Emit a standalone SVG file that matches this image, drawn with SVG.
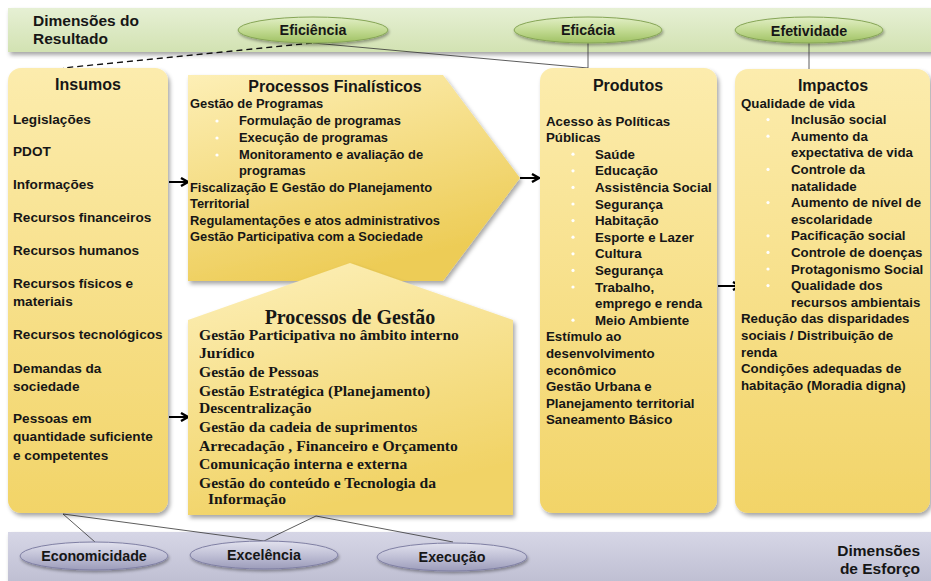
<svg xmlns="http://www.w3.org/2000/svg" width="931" height="581" viewBox="0 0 931 581">
<defs>
<linearGradient id="gBand" x1="0" y1="0" x2="0" y2="1"><stop offset="0" stop-color="#e6f0d4"/><stop offset="1" stop-color="#d2e2b2"/></linearGradient>
<linearGradient id="gBandB" x1="0" y1="0" x2="0" y2="1"><stop offset="0" stop-color="#d6d6e6"/><stop offset="1" stop-color="#bcbcd0"/></linearGradient>
<linearGradient id="gEllG" x1="0" y1="0" x2="0" y2="1"><stop offset="0" stop-color="#e2efc6"/><stop offset="0.5" stop-color="#c3db94"/><stop offset="1" stop-color="#9fc162"/></linearGradient>
<linearGradient id="gEllB" x1="0" y1="0" x2="0" y2="1"><stop offset="0" stop-color="#e2e2ee"/><stop offset="0.5" stop-color="#c0c0d6"/><stop offset="1" stop-color="#9c9cba"/></linearGradient>
<linearGradient id="gBox" x1="0" y1="0" x2="0" y2="1"><stop offset="0" stop-color="#fcecad"/><stop offset="1" stop-color="#f2d468"/></linearGradient>
<linearGradient id="gPF" x1="0" y1="0" x2="0.4" y2="1"><stop offset="0" stop-color="#fdefb6"/><stop offset="1" stop-color="#edcc56"/></linearGradient>
<linearGradient id="gPG" x1="0" y1="0" x2="0.3" y2="1"><stop offset="0" stop-color="#fdf0ba"/><stop offset="1" stop-color="#f1d366"/></linearGradient>
<filter id="sh" x="-10%" y="-10%" width="125%" height="125%"><feDropShadow dx="2" dy="3" stdDeviation="2" flood-color="#000" flood-opacity="0.35"/></filter>
<filter id="shE" x="-10%" y="-20%" width="125%" height="150%"><feDropShadow dx="1" dy="2" stdDeviation="1.5" flood-color="#000" flood-opacity="0.35"/></filter>
<marker id="arr" viewBox="0 0 10 10" refX="8.5" refY="5" markerWidth="5" markerHeight="5" orient="auto" markerUnits="strokeWidth"><path d="M1.5,1 L8.5,5 L1.5,9" fill="none" stroke="#000" stroke-width="2.4"/></marker>
<style>
.sans{font-family:"Liberation Sans",Arial,sans-serif;font-weight:bold;fill:#161616}
.serif{font-family:"Liberation Serif","Times New Roman",serif;font-weight:bold;fill:#161616}
.t{font-size:16px}
.i{font-size:13.6px}
.pf{font-size:12.9px}
.pr{font-size:13.3px}
.pg{font-size:15.6px}
.ell{font-size:14.3px;text-anchor:middle}
.dim{font-size:15.5px}
.ln{stroke:#333;stroke-width:0.8;fill:none}
.ar{stroke:#000;stroke-width:2;fill:none;marker-end:url(#arr)}
.bul{fill:#ffffff}
</style>
</defs>

<g id="band-resultado">
<rect x="8" y="8" width="930" height="44" fill="url(#gBand)" filter="url(#sh)"/>
<text class="sans dim" x="33" y="26">Dimensões do</text>
<text class="sans dim" x="33" y="44">Resultado</text>
</g>
<g id="band-esforco">
<rect x="8" y="532" width="930" height="56" fill="url(#gBandB)" filter="url(#sh)"/>
<text class="sans dim" x="920" y="556" text-anchor="end">Dimensões</text>
<text class="sans dim" x="920" y="574" text-anchor="end">de Esforço</text>
</g>

<g id="connectors">
<line x1="312" y1="43" x2="63" y2="68" stroke="#111" stroke-width="1.3" stroke-dasharray="6,4"/>
<line class="ln" x1="313" y1="43" x2="588" y2="68"/>
<line class="ln" x1="588" y1="43" x2="588" y2="68"/>
<line class="ln" x1="809" y1="43" x2="809" y2="69"/>
<line class="ln" x1="63" y1="514" x2="95" y2="542"/>
<line class="ln" x1="63" y1="514" x2="264" y2="541"/>
<line class="ln" x1="316" y1="516" x2="264" y2="541"/>
<line class="ln" x1="316" y1="516" x2="453" y2="542"/>
<line class="ar" x1="169" y1="182" x2="188" y2="182"/>
<line class="ar" x1="169" y1="417" x2="188" y2="417"/>
<line class="ar" x1="520" y1="178" x2="539" y2="178"/>
<line class="ar" x1="718" y1="286" x2="740" y2="286"/>
</g>

<g id="eficiencia">
<ellipse cx="313" cy="30" rx="75" ry="13" fill="url(#gEllG)" stroke="#86a556" stroke-width="1" filter="url(#shE)"/>
<text class="sans ell" x="313" y="35">Eficiência</text>
</g>
<g id="eficacia">
<ellipse cx="588" cy="30" rx="74" ry="13" fill="url(#gEllG)" stroke="#86a556" stroke-width="1" filter="url(#shE)"/>
<text class="sans ell" x="588" y="35">Eficácia</text>
</g>
<g id="efetividade">
<ellipse cx="809" cy="30" rx="74" ry="13" fill="url(#gEllG)" stroke="#86a556" stroke-width="1" filter="url(#shE)"/>
<text class="sans ell" x="809" y="36">Efetividade</text>
</g>

<g id="economicidade">
<ellipse cx="94" cy="556" rx="74" ry="14" fill="url(#gEllB)" stroke="#7f7fa3" stroke-width="1" filter="url(#shE)"/>
<text class="sans ell" x="94" y="561">Economicidade</text>
</g>
<g id="excelencia">
<ellipse cx="264" cy="555" rx="74" ry="14" fill="url(#gEllB)" stroke="#7f7fa3" stroke-width="1" filter="url(#shE)"/>
<text class="sans ell" x="264" y="560">Excelência</text>
</g>
<g id="execucao">
<ellipse cx="452" cy="557" rx="75" ry="14" fill="url(#gEllB)" stroke="#7f7fa3" stroke-width="1" filter="url(#shE)"/>
<text class="sans ell" x="452" y="562">Execução</text>
</g>

<g id="insumos">
<rect x="8" y="68" width="160" height="445" rx="13" fill="url(#gBox)" filter="url(#sh)"/>
<text class="sans t" x="88" y="90" text-anchor="middle">Insumos</text>
<g class="sans i">
<text x="13" y="124">Legislações</text>
<text x="13" y="156">PDOT</text>
<text x="13" y="189">Informações</text>
<text x="13" y="222">Recursos financeiros</text>
<text x="13" y="255">Recursos humanos</text>
<text x="13" y="288">Recursos físicos e</text>
<text x="13" y="306">materiais</text>
<text x="13" y="339">Recursos tecnológicos</text>
<text x="13" y="373">Demandas da</text>
<text x="13" y="391">sociedade</text>
<text x="13" y="423">Pessoas em</text>
<text x="13" y="441">quantidade suficiente</text>
<text x="13" y="460">e competentes</text>
</g>
</g>

<g id="processos-finalisticos">
<polygon points="188,75 443,75 520,178 443,281 188,281" fill="url(#gPF)" filter="url(#sh)"/>
<text class="sans t" x="335" y="92" text-anchor="middle">Processos Finalísticos</text>
<g class="sans pf">
<text x="190" y="108">Gestão de Programas</text>
<text x="239" y="125">Formulação de programas</text>
<text x="239" y="142">Execução de programas</text>
<text x="239" y="159">Monitoramento e avaliação de</text>
<text x="239" y="175">programas</text>
<text x="190" y="192">Fiscalização E Gestão do Planejamento</text>
<text x="190" y="208">Territorial</text>
<text x="190" y="225">Regulamentações e atos administrativos</text>
<text x="190" y="241">Gestão Participativa com a Sociedade</text>
</g>
<circle class="bul" cx="217" cy="121" r="1.6"/>
<circle class="bul" cx="217" cy="138" r="1.6"/>
<circle class="bul" cx="217" cy="155" r="1.6"/>
</g>

<g id="processos-gestao">
<polygon points="188,320 350,263 513,320 513,515 188,515" fill="url(#gPG)" filter="url(#sh)"/>
<text class="serif" font-size="20" x="350" y="324" text-anchor="middle">Processos de Gestão</text>
<g class="serif pg">
<text x="199" y="340">Gestão Participativa no âmbito interno</text>
<text x="199" y="358">Jurídico</text>
<text x="199" y="377">Gestão de Pessoas</text>
<text x="199" y="396">Gestão Estratégica (Planejamento)</text>
<text x="199" y="413">Descentralização</text>
<text x="199" y="432">Gestão da cadeia de suprimentos</text>
<text x="199" y="451">Arrecadação , Financeiro e Orçamento</text>
<text x="199" y="469">Comunicação interna e externa</text>
<text x="199" y="488">Gestão do conteúdo e Tecnologia da</text>
<text x="208" y="504">Informação</text>
</g>
</g>

<g id="produtos">
<rect x="540" y="68" width="177" height="445" rx="13" fill="url(#gBox)" filter="url(#sh)"/>
<text class="sans t" x="628" y="91" text-anchor="middle">Produtos</text>
<g class="sans pr">
<text x="546" y="125.5">Acesso às Políticas</text>
<text x="546" y="142.1">Públicas</text>
<text x="595" y="158.7">Saúde</text>
<text x="595" y="175.3">Educação</text>
<text x="595" y="191.9">Assistência Social</text>
<text x="595" y="208.5">Segurança</text>
<text x="595" y="225.1">Habitação</text>
<text x="595" y="241.7">Esporte e Lazer</text>
<text x="595" y="258.3">Cultura</text>
<text x="595" y="274.9">Segurança</text>
<text x="595" y="291.5">Trabalho,</text>
<text x="595" y="308.1">emprego e renda</text>
<text x="595" y="324.7">Meio Ambiente</text>
<text x="546" y="341.3">Estímulo ao</text>
<text x="546" y="357.9">desenvolvimento</text>
<text x="546" y="374.5">econômico</text>
<text x="546" y="391.1">Gestão Urbana e</text>
<text x="546" y="407.7">Planejamento territorial</text>
<text x="546" y="424.3">Saneamento Básico</text>
</g>
<circle class="bul" cx="573" cy="154.2" r="1.6"/>
<circle class="bul" cx="573" cy="170.8" r="1.6"/>
<circle class="bul" cx="573" cy="187.4" r="1.6"/>
<circle class="bul" cx="573" cy="204" r="1.6"/>
<circle class="bul" cx="573" cy="220.6" r="1.6"/>
<circle class="bul" cx="573" cy="237.2" r="1.6"/>
<circle class="bul" cx="573" cy="253.8" r="1.6"/>
<circle class="bul" cx="573" cy="270.4" r="1.6"/>
<circle class="bul" cx="573" cy="287" r="1.6"/>
<circle class="bul" cx="573" cy="320.2" r="1.6"/>
</g>

<g id="impactos">
<rect x="735" y="69" width="195" height="444" rx="13" fill="url(#gBox)" filter="url(#sh)"/>
<text class="sans t" x="833" y="91" text-anchor="middle">Impactos</text>
<g class="sans pr">
<text x="741" y="107.5">Qualidade de vida</text>
<text x="791" y="124.1">Inclusão social</text>
<text x="791" y="140.7">Aumento da</text>
<text x="791" y="157.3">expectativa de vida</text>
<text x="791" y="173.9">Controle da</text>
<text x="791" y="190.5">natalidade</text>
<text x="791" y="207.1">Aumento de nível de</text>
<text x="791" y="223.7">escolaridade</text>
<text x="791" y="240.3">Pacificação social</text>
<text x="791" y="256.9">Controle de doenças</text>
<text x="791" y="273.5">Protagonismo Social</text>
<text x="791" y="290.1">Qualidade dos</text>
<text x="791" y="306.7">recursos ambientais</text>
<text x="741" y="323.3">Redução das disparidades</text>
<text x="741" y="339.9">sociais / Distribuição de</text>
<text x="741" y="356.5">renda</text>
<text x="741" y="373.1">Condições adequadas de</text>
<text x="741" y="389.7">habitação (Moradia digna)</text>
</g>
<circle class="bul" cx="768" cy="119.6" r="1.6"/>
<circle class="bul" cx="768" cy="136.2" r="1.6"/>
<circle class="bul" cx="768" cy="169.4" r="1.6"/>
<circle class="bul" cx="768" cy="202.6" r="1.6"/>
<circle class="bul" cx="768" cy="235.8" r="1.6"/>
<circle class="bul" cx="768" cy="252.4" r="1.6"/>
<circle class="bul" cx="768" cy="269" r="1.6"/>
<circle class="bul" cx="768" cy="285.6" r="1.6"/>
</g>
</svg>
